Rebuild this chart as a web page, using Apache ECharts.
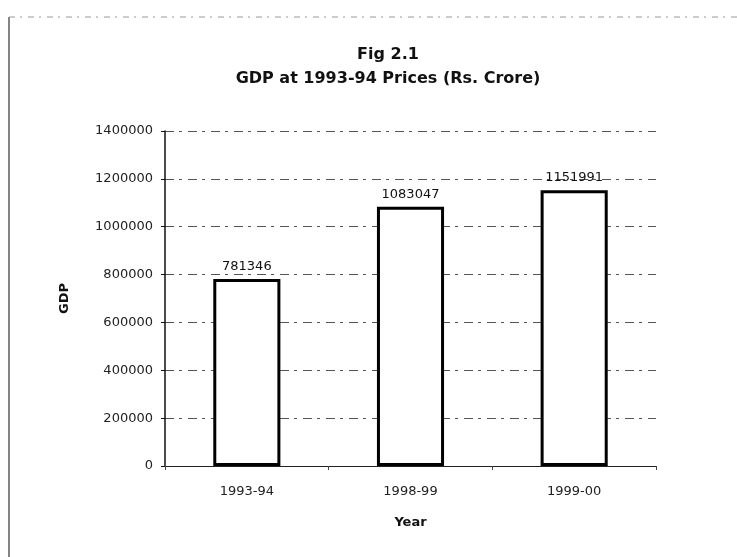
<!DOCTYPE html>
<html>
<head>
<meta charset="utf-8">
<script src="https://cdn.jsdelivr.net/npm/echarts@6/dist/echarts.min.js"></script>
<style>
  html, body { margin: 0; padding: 0; background: #fff; }
  #gdpChart { width: 737px; height: 557px; }
</style>
</head>
<body>
<div id="gdpChart"></div>
<script>
// chart data
var years = ['1993-94', '1998-99', '1999-00'];
var gdpValues = [781346, 1083047, 1151991];
var yTicks = [0, 200000, 400000, 600000, 800000, 1000000, 1200000, 1400000];

var chart = echarts.init(document.getElementById('gdpChart'));

var option = {
  backgroundColor: '#ffffff',
  animation: false,
  title: {
    text: 'Fig 2.1\nGDP at 1993-94 Prices (Rs. Crore)',
    left: 383,
    top: 38,
    textAlign: 'center',
    textStyle: {
      fontFamily: 'DejaVu Sans',
      fontWeight: 'bold',
      fontSize: 16,
      lineHeight: 24,
      color: '#111'
    }
  },
  // scanned page frame
  graphic: [
    {
      type: 'line',
      shape: { x1: 9, y1: 17, x2: 9, y2: 557 },
      style: { stroke: '#333', lineWidth: 1.2 }
    },
    {
      type: 'line',
      shape: { x1: 9, y1: 17, x2: 737, y2: 17 },
      style: { stroke: '#999', lineWidth: 1, lineDash: [6, 5, 2, 6] }
    }
  ],
  grid: {
    left: 165,
    right: 81,
    top: 131,
    bottom: 91
  },
  xAxis: {
    type: 'category',
    data: years,
    name: 'Year',
    nameLocation: 'middle',
    nameGap: 50,
    nameTextStyle: {
      fontFamily: 'DejaVu Sans',
      fontWeight: 'bold',
      fontSize: 13,
      color: '#111'
    },
    axisLine: { lineStyle: { color: '#222', width: 1 } },
    axisTick: { show: true, length: 4, lineStyle: { color: '#444' } },
    axisLabel: {
      margin: 19,
      fontFamily: 'DejaVu Sans',
      fontSize: 13,
      color: '#222'
    }
  },
  yAxis: {
    type: 'value',
    min: yTicks[0],
    max: yTicks[yTicks.length - 1],
    interval: yTicks[1] - yTicks[0],
    name: 'GDP',
    nameLocation: 'middle',
    nameGap: 94,
    nameTextStyle: {
      fontFamily: 'DejaVu Sans',
      fontWeight: 'bold',
      fontSize: 13,
      color: '#111'
    },
    axisLine: { show: true, lineStyle: { color: '#111', width: 1.5 } },
    axisTick: { show: true, length: 4, lineStyle: { color: '#111' } },
    axisLabel: {
      margin: 12,
      fontFamily: 'DejaVu Sans',
      fontSize: 13,
      color: '#222',
      formatter: function (v) { return String(v); }
    },
    splitLine: {
      show: true,
      lineStyle: { color: '#555', width: 1, type: [9, 5, 3, 6] }
    }
  },
  series: [
    {
      name: 'GDP',
      type: 'bar',
      data: gdpValues,
      barWidth: '41%',
      itemStyle: {
        color: '#ffffff',
        borderColor: '#000000',
        borderWidth: 3
      },
      label: {
        show: true,
        position: 'top',
        distance: 6,
        fontFamily: 'DejaVu Sans',
        fontSize: 13,
        color: '#111'
      }
    }
  ]
};

chart.setOption(option);
</script>
</body>
</html>
